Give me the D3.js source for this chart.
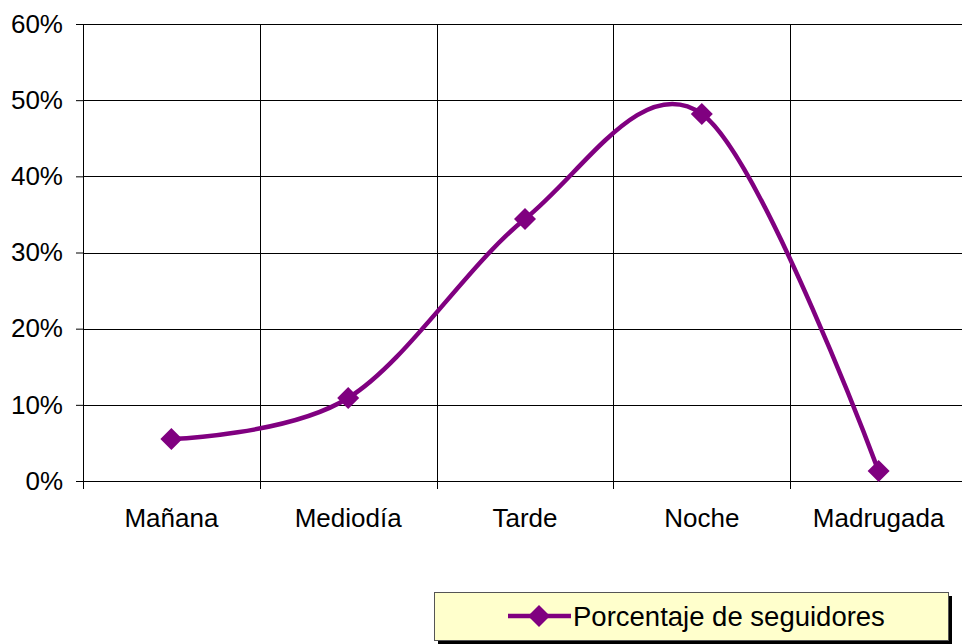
<!DOCTYPE html>
<html>
<head>
<meta charset="utf-8">
<script src="https://cdn.jsdelivr.net/npm/d3@7"></script>
<style>
  body { margin: 0; background: #fff; }
  svg { display: block; font-family: "Liberation Sans", Arial, sans-serif; }
</style>
</head>
<body>
<script>
// Chart data
const categories = ["Mañana", "Mediodía", "Tarde", "Noche", "Madrugada"];
const values = [0.055, 0.109, 0.344, 0.482, 0.013];
const yTicks = [0, 0.1, 0.2, 0.3, 0.4, 0.5, 0.6];
const seriesName = "Porcentaje de seguidores";

const W = 962, H = 644;
const margin = { top: 24, right: -5, bottom: 163, left: 83 };
const width = W - margin.left - margin.right;
const height = H - margin.top - margin.bottom;
const purple = "#800080";

const svg = d3.select("body").append("svg")
    .attr("width", W)
    .attr("height", H);

const g = svg.append("g")
    .attr("transform", `translate(${margin.left},${margin.top})`);

const x = d3.scaleBand().domain(categories).range([0, width]).padding(0);
const y = d3.scaleLinear().domain([0, 0.6]).range([height, 0]);

// horizontal gridlines
g.append("g")
    .selectAll("line")
    .data(yTicks)
    .join("line")
    .attr("x1", 0)
    .attr("x2", width)
    .attr("y1", d => Math.round(y(d)) + 0.5)
    .attr("y2", d => Math.round(y(d)) + 0.5)
    .attr("stroke", "#000")
    .attr("stroke-width", 1);

// vertical gridlines at category boundaries
const bounds = categories.map(c => x(c)).concat([width]);
g.append("g")
    .selectAll("line")
    .data(bounds)
    .join("line")
    .attr("x1", d => Math.round(d) + 0.5)
    .attr("x2", d => Math.round(d) + 0.5)
    .attr("y1", 0)
    .attr("y2", height + 8)
    .attr("stroke", "#000")
    .attr("stroke-width", 1);

// y axis
const yAxis = g.append("g")
    .call(d3.axisLeft(y).tickValues(yTicks).tickSize(7).tickFormat(d3.format(".0%")));
yAxis.select(".domain").attr("stroke", "#000");
yAxis.selectAll(".tick line").attr("stroke", "#000");
yAxis.selectAll("text")
    .attr("font-size", 26)
    .attr("font-family", "Liberation Sans, Arial, sans-serif")
    .attr("fill", "#000")
    .attr("x", -20);

// x axis labels
const xAxis = g.append("g")
    .attr("transform", `translate(0,${height})`)
    .call(d3.axisBottom(x).tickSize(0).tickPadding(28));
xAxis.select(".domain").remove();
xAxis.selectAll("text")
    .attr("font-size", 26)
    .attr("font-family", "Liberation Sans, Arial, sans-serif")
    .attr("fill", "#000");

// smoothed line
const pts = categories.map((c, i) => [x(c) + x.bandwidth() / 2, y(values[i])]);
const line = d3.line().curve(d3.curveCardinal.tension(0));
g.append("path")
    .attr("d", line(pts))
    .attr("fill", "none")
    .attr("stroke", purple)
    .attr("stroke-width", 4.5)
    .attr("stroke-linejoin", "round");

const diamond = "M0,-11L11,0L0,11L-11,0Z";
g.append("g")
    .selectAll("path")
    .data(pts)
    .join("path")
    .attr("d", diamond)
    .attr("transform", d => `translate(${d[0]},${d[1]})`)
    .attr("fill", purple);

// legend
const lg = svg.append("g").attr("transform", "translate(434,592)");
lg.append("rect")
    .attr("x", 4).attr("y", 4)
    .attr("width", 514).attr("height", 48)
    .attr("fill", "#000");
lg.append("rect")
    .attr("x", 0.5).attr("y", 0.5)
    .attr("width", 514).attr("height", 48)
    .attr("fill", "#ffffcc")
    .attr("stroke", "#555")
    .attr("stroke-width", 1);
lg.append("line")
    .attr("x1", 74).attr("x2", 137)
    .attr("y1", 24).attr("y2", 24)
    .attr("stroke", purple)
    .attr("stroke-width", 4.5);
lg.append("path")
    .attr("d", diamond)
    .attr("transform", "translate(105,24)")
    .attr("fill", purple);
lg.append("text")
    .attr("x", 139)
    .attr("y", 24)
    .attr("dy", "0.35em")
    .attr("font-size", 27.5)
    .attr("fill", "#000")
    .text(seriesName);
</script>
</body>
</html>
